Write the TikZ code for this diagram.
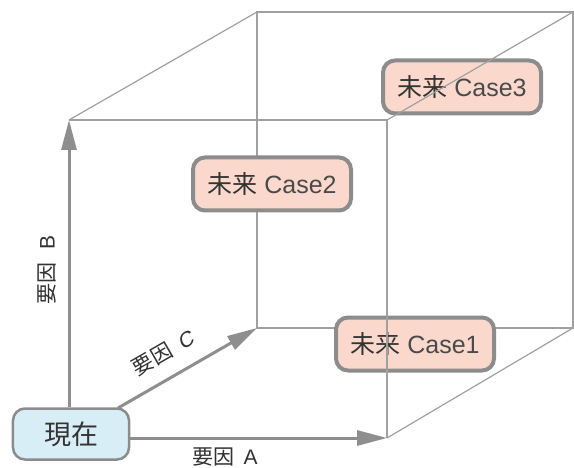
\documentclass[tikz,border=0pt]{standalone}
\usepackage{fontspec}
\setmainfont{Noto Sans CJK JP}
\newfontfamily\lat{Liberation Sans}
\newfontfamily\latslant[FakeSlant=0.2]{Liberation Sans}
\usetikzlibrary{arrows.meta}
\definecolor{edgegray}{HTML}{A0A0A0}
\definecolor{axisgray}{HTML}{8E8E8E}
\definecolor{boxgray}{HTML}{8C8C8C}
\definecolor{casefill}{HTML}{FAD9CC}
\definecolor{nowfill}{HTML}{D8EEF6}
\definecolor{txt}{HTML}{333333}
\definecolor{lattxt}{HTML}{4A4A4A}
\tikzset{
  edge/.style={draw=edgegray, line width=1.2bp},
  axis/.style={draw=axisgray, line width=3bp, -{Triangle[length=30bp,width=15bp]}},
  casebox/.style={draw=boxgray, line width=4bp, fill=casefill, rounded corners=12bp,
    minimum width=158bp, minimum height=53bp, inner sep=0pt, font=\fontsize{25bp}{28bp}\selectfont, text=txt},
  nowbox/.style={draw=boxgray, line width=2.5bp, fill=nowfill, rounded corners=12bp,
    minimum width=116bp, minimum height=51bp, inner sep=0pt, font=\fontsize{27bp}{30bp}\selectfont, text=txt},
  axlabel/.style={font=\fontsize{21bp}{24bp}\selectfont, text=txt, inner sep=0pt}
}
\begin{document}
\begin{tikzpicture}[x=1bp,y=-1bp]
\useasboundingbox[fill=white] (0,0) rectangle (574,468);
% cube corners
\coordinate (FTL) at (69,120);
\coordinate (FTR) at (387,120);
\coordinate (FBR) at (387,438);
\coordinate (BTL) at (257,12);
\coordinate (BTR) at (573,12);
\coordinate (BBL) at (257,328);
\coordinate (BBR) at (573,328);
% back face
\draw[edge] (BTL) -- (BTR) -- (BBR) -- (BBL) -- cycle;
% case boxes
\node[casebox] (c2) at (272,184) {未来{\lat\color{lattxt}\ Case2}};
\node[casebox] (c1) at (415,344) {未来{\lat\color{lattxt}\ Case1}};
\node[casebox] (c3) at (462,87) {未来{\lat\color{lattxt}\ Case3}};
% front face and connecting edges
\draw[edge] (FTL) -- (FTR) -- (FBR);
\draw[edge] (FTL) -- (BTL);
\draw[edge] (FTR) -- (BTR);
\draw[edge] (FBR) -- (BBR);
% now node
\node[nowbox] (now) at (71,434) {現在};
% axes
\draw[axis] (now.north -| FTL) -- (FTL);
\draw[axis] (now.east |- FBR) -- (FBR);
\draw[axis] (118,408) -- (BBL);
% labels
\node[axlabel] (la) at (225,457) {要因\hspace{0.45em}{\lat A}};
\node[axlabel, rotate=90] (lb) at (47,270) {要因\hspace{0.6em}{\lat B}};
\node[axlabel, rotate=30] (lc) at (163,353) {要因\hspace{0.45em}{\latslant C}};
\end{tikzpicture}
\end{document}
